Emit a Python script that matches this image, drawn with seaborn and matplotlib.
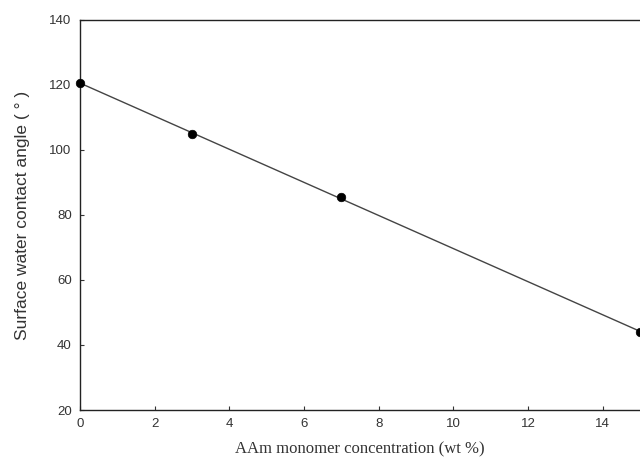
import numpy as np
import pandas as pd
import matplotlib
matplotlib.use("Agg")
import matplotlib.pyplot as plt
import seaborn as sns

# data
aam_conc = [0, 3, 7, 15]
contact_angle = [120.5, 105, 85.5, 44]
x_ticks = [0, 2, 4, 6, 8, 10, 12, 14]
y_ticks = [20, 40, 60, 80, 100, 120, 140]

df = pd.DataFrame({"conc": aam_conc, "angle": contact_angle})

sns.set_style("white")
plt.rcParams["font.family"] = ["Liberation Sans", "DejaVu Sans"]

fig = plt.figure(figsize=(6.4, 4.74), dpi=100)
ax = fig.add_axes([0.125, 0.135, 0.875, 0.823])

# linear fit line
slope, icpt = np.polyfit(df["conc"], df["angle"], 1)
fit_x = np.array([0, 15])
sns.lineplot(x=fit_x, y=slope * fit_x + icpt, ax=ax, color="#444444", linewidth=1.0)
sns.scatterplot(data=df, x="conc", y="angle", ax=ax, color="black", s=38,
                edgecolor="black", zorder=5, clip_on=False)

ax.set_xlim(0, 15)
ax.set_ylim(20, 140)
ax.set_xticks(x_ticks)
ax.set_yticks(y_ticks)
ax.tick_params(direction="in", length=3, width=0.8, colors="#333333",
               labelsize=9.5, labelcolor="#333333", pad=6,
               bottom=True, left=True)
for side in ["left", "bottom", "top"]:
    ax.spines[side].set_color("#222222")
    ax.spines[side].set_linewidth(1.0)
ax.spines["right"].set_visible(False)

ax.set_xlabel("AAm monomer concentration (wt %)", family="Liberation Serif",
              fontsize=12, color="#333333", labelpad=8)
ax.set_ylabel("Surface water contact angle ( ° )", fontsize=12.5,
              color="#333333", labelpad=14)

fig.savefig("out.png", dpi=100)
